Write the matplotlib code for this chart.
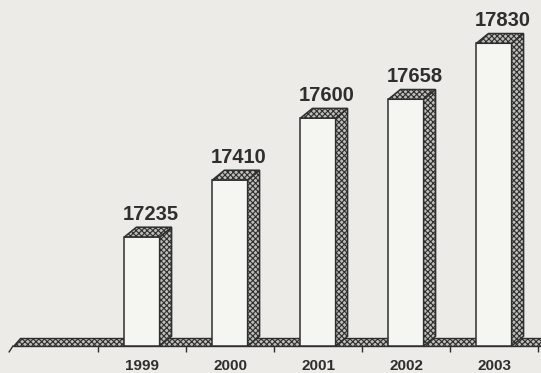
import matplotlib
matplotlib.use("Agg")
import matplotlib.pyplot as plt
from matplotlib.patches import Polygon

years = ["1999", "2000", "2001", "2002", "2003"]
values = [17235, 17410, 17600, 17658, 17830]

base = 16900
paper = "#ecebe7"
face = "#f5f5f1"
shade = "#bdbdb9"
ink = "#2e2e2e"

plt.rcParams["font.family"] = ["Liberation Sans", "DejaVu Sans"]
plt.rcParams["hatch.linewidth"] = 0.8
plt.rcParams["hatch.color"] = ink

fig = plt.figure(figsize=(5.41, 3.73), dpi=100, facecolor=paper)
ax = fig.add_axes([0, 27 / 373, 1, 346 / 373])
ax.set_facecolor(paper)
ax.set_xlim(-1.614, 4.534)
ax.set_ylim(base, base + 346 / 0.3255)

w = 0.40   # bar front width
dx = 0.136 # depth offset (x)
dy = 30    # depth offset (y, data units)

# floor strip
floor = Polygon([(-1.467, base), (4.6, base), (4.6, base + 25), (-1.39, base + 25)],
                closed=True, facecolor=shade, edgecolor=ink, hatch="xxxxxx",
                linewidth=1.0, zorder=1, clip_on=False)
ax.add_patch(floor)
ax.plot([-1.467, -1.51], [base, base - 18], color=ink, lw=1.0, clip_on=False, zorder=1)

pos = list(range(len(years)))
ax.bar(pos, [v - base for v in values], bottom=base, width=w, color=face,
       edgecolor=ink, linewidth=1.1, zorder=3)

for x, v in zip(pos, values):
    r = x + w / 2
    l = x - w / 2
    side = Polygon([(r, base), (r + dx, base + dy), (r + dx, v + dy), (r, v)],
                   closed=True, facecolor=shade, edgecolor=ink, hatch="xxxxxx",
                   linewidth=1.1, zorder=3)
    top = Polygon([(l, v), (r, v), (r + dx, v + dy), (l + dx, v + dy)],
                  closed=True, facecolor=shade, edgecolor=ink, hatch="xxxxxx",
                  linewidth=1.1, zorder=3)
    ax.add_patch(side)
    ax.add_patch(top)
    ax.text(x + 0.1, v + dy + 23, str(v), ha="center", va="baseline",
            fontsize=14.5, fontweight="bold", color=ink, zorder=4)

for s in ax.spines.values():
    s.set_visible(False)
ax.set_yticks([])
ax.set_xticks(pos)
ax.set_xticklabels(years, fontsize=11, fontweight="bold", color=ink)
ax.tick_params(axis="x", which="major", length=0, pad=9)
ax.set_xticks([p - 0.5 for p in pos] + [4.5], minor=True)
ax.tick_params(axis="x", which="minor", length=4.5, width=1.0, color=ink, direction="out")

fig.savefig("out.png", dpi=100, facecolor=paper)
